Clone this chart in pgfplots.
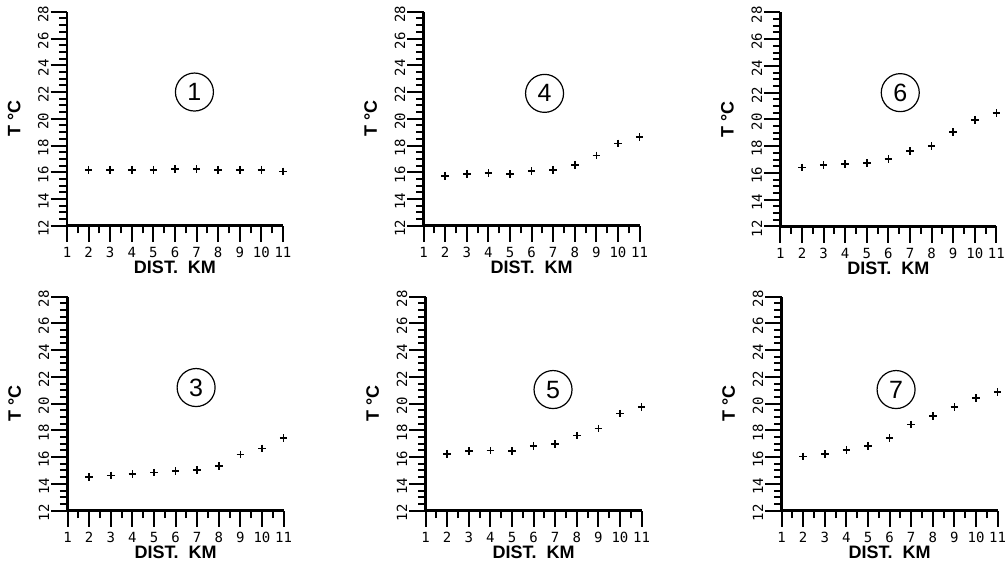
\documentclass[border=0pt]{standalone}
\usepackage{fontspec}
\setmainfont{Liberation Sans}
\setsansfont{Liberation Sans}
\setmonofont{DejaVu Sans Mono}
\usepackage{pgfplots}
\pgfplotsset{compat=1.18}
\tikzset{
  tag/.style={draw, circle, minimum size=19pt, inner sep=0pt, line width=0.6pt, font=\fontsize{12.5}{12.5}\selectfont},
}
\pgfplotsset{
  panel/.style={
    scale only axis, width=108pt, height=107pt,
    xmin=1, xmax=11, ymin=12, ymax=28,
    axis lines*=left,
    axis line style={line width=1.3pt},
    xtick={1,...,11}, ytick={12,14,...,28},
    minor x tick num=1, minor y tick num=3,
    tick align=outside,
    major tick length=8.2pt, minor tick length=3.8pt,
    every tick/.append style={black, line width=1pt},
    /pgf/number format/assume math mode=true,
    tick label style={font=\fontsize{7}{8}\selectfont\ttfamily},
    xticklabel style={inner sep=0.8pt, yshift=-1.6pt},
    yticklabel style={rotate=90, anchor=south, inner sep=0.8pt, xshift=-1.2pt},
    xlabel={\textbf{DIST.\ \ KM}},
    ylabel={\textbf{T \textdegree C}},
    label style={font=\fontsize{9}{10}\selectfont, inner sep=0pt},
    xlabel style={at={(axis description cs:0.5,-0.196)}, anchor=center},
    ylabel style={at={(axis description cs:-0.245,0.5)}, anchor=center, rotate=0},
    clip=false,
  },
  pts/.style={only marks, mark=+, mark size=1.9pt, mark options={line width=0.8pt}, black},
}
\begin{document}
\begin{tikzpicture}[x=1pt,y=1pt]
\path[use as bounding box] (0,0) rectangle (504,282.5);
% Panel 1
\begin{axis}[panel, at={(33.5pt,169.6pt)}, anchor=origin]
\addplot[pts] coordinates {(2,16.19) (3,16.19) (4,16.19) (5,16.19) (6,16.23) (7,16.23) (8,16.19) (9,16.19) (10,16.19) (11,16.06)};
\node[tag] at (axis cs:6.9,22.0) {1};
\end{axis}
% Panel 4
\begin{axis}[panel, at={(211.8pt,169.6pt)}, anchor=origin]
\addplot[pts] coordinates {(2,15.74) (3,15.89) (4,15.94) (5,15.86) (6,16.09) (7,16.19) (8,16.56) (9,17.26) (10,18.16) (11,18.65)};
\node[tag] at (axis cs:6.6,21.9) {4};
\end{axis}
% Panel 6
\begin{axis}[panel, at={(390.2pt,169.3pt)}, anchor=origin]
\addplot[pts] coordinates {(2,16.40) (3,16.60) (4,16.67) (5,16.75) (6,17.04) (7,17.64) (8,17.99) (9,19.06) (10,19.97) (11,20.49)};
\node[tag] at (axis cs:6.55,22.0) {6};
\end{axis}
% Panel 3
\begin{axis}[panel, at={(33.8pt,27.2pt)}, anchor=origin]
\addplot[pts] coordinates {(2,14.50) (3,14.62) (4,14.74) (5,14.84) (6,14.97) (7,15.02) (8,15.34) (9,16.19) (10,16.64) (11,17.44)};
\node[tag] at (axis cs:6.95,21.2) {3};
\end{axis}
% Panel 5
\begin{axis}[panel, at={(212.8pt,27.2pt)}, anchor=origin]
\addplot[pts] coordinates {(2,16.25) (3,16.45) (4,16.48) (5,16.45) (6,16.85) (7,16.98) (8,17.60) (9,18.13) (10,19.25) (11,19.75)};
\node[tag] at (axis cs:6.9,21.05) {5};
\end{axis}
% Panel 7
\begin{axis}[panel, at={(390.8pt,27.2pt)}, anchor=origin]
\addplot[pts] coordinates {(2,16.05) (3,16.23) (4,16.55) (5,16.85) (6,17.43) (7,18.43) (8,19.08) (9,19.75) (10,20.43) (11,20.88)};
\node[tag] at (axis cs:6.3,21.05) {7};
\end{axis}
\end{tikzpicture}
\end{document}
